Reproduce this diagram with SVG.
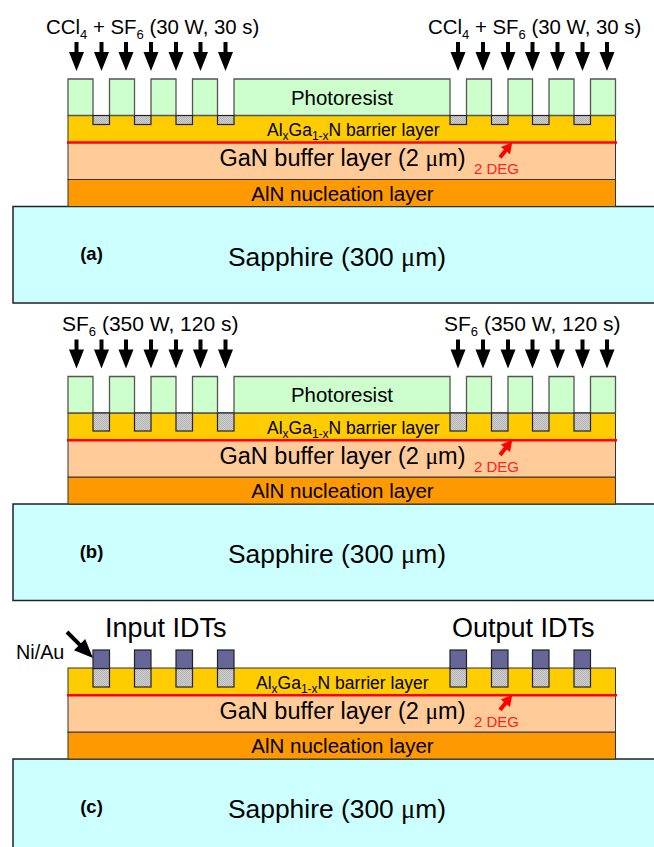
<svg xmlns="http://www.w3.org/2000/svg" width="654" height="847" viewBox="0 0 654 847">
<style>
text{font-family:"Liberation Sans",Arial,sans-serif;fill:#000}
.m{text-anchor:middle}
.s{font-size:20.4px}.s2{font-size:21px}.big{font-size:23.5px}.sap{font-size:26.4px}.res{font-size:20.4px}.bar{font-size:17.5px}.aln{font-size:20.5px}.lab{font-size:18.5px;font-weight:bold}
.red{fill:#ff2020;font-size:15px}
.u{font-family:"Liberation Serif",serif}
.pr{fill:#ccffcc;stroke:#555;stroke-width:1.3}
.ba{fill:#ffcc00;stroke:#333;stroke-width:1}
.bu{fill:#ffcc99;stroke:#333;stroke-width:1}
.al{fill:#ff9900;stroke:#333;stroke-width:1}
.sa{fill:#ccffff;stroke:#222;stroke-width:1.5}
.et{fill:url(#dots);stroke:#222;stroke-width:1.2}
.ni{fill:#666699;stroke:#222;stroke-width:1.2}
.rl{stroke:#ff0000;stroke-width:2.5;fill:none}
.ra{stroke:#ff0000;stroke-width:4;fill:none;marker-end:url(#rh)}
</style>
<defs>
<pattern id="dots" width="2" height="2" patternUnits="userSpaceOnUse"><rect width="2" height="2" fill="#cfcfcf"/><rect width="1" height="1" fill="#b4b4b4"/><rect x="1" y="1" width="1" height="1" fill="#b4b4b4"/></pattern>
<marker id="rh" markerUnits="userSpaceOnUse" markerWidth="16" markerHeight="16" refX="1" refY="6" orient="auto"><path d="M0 0L11 6L0 12Z" fill="#ff0000"/></marker>
<path id="ar" d="M-2 0H2V10H7.500L0 29L-7.500 10H-2Z" fill="#000"/>
</defs>

<g id="panel-a">
<g id="a-sapphire"><rect class="sa" x="13" y="206.500" width="650" height="96.500"/><text class="sap m" x="337" y="266">Sapphire (300 <tspan class="u">μ</tspan>m)</text><text class="lab m" x="91.500" y="260">(a)</text></g>
<g id="a-aln"><rect class="al" x="68" y="179.500" width="547.500" height="27"/><text class="aln m" x="342.500" y="201">AlN nucleation layer</text></g>
<g id="a-buffer"><rect class="bu" x="68" y="142.500" width="547.500" height="37"/><text class="big m" x="342.500" y="166">GaN buffer layer (2 <tspan class="u">μ</tspan>m)</text></g>
<g id="a-barrier"><rect class="ba" x="68" y="115.500" width="547.500" height="27"/><text class="bar" x="267" y="136">Al<tspan font-size="12" dy="4">x</tspan><tspan dy="-4">Ga</tspan><tspan font-size="12" dy="4">1-x</tspan><tspan dy="-4">N barrier layer</tspan></text></g>
<g id="a-resist"><path class="pr" d="M68 115.500V79H93V115.500ZM109.500 115.500V79H134.500V115.500ZM151 115.500V79H176V115.500ZM192.500 115.500V79H217.500V115.500ZM234 115.500V79H450V115.500ZM466.500 115.500V79H491.500V115.500ZM508 115.500V79H532.500V115.500ZM549 115.500V79H574V115.500ZM590.500 115.500V79H615.500V115.500Z"/><text class="res m" x="342" y="105">Photoresist</text></g>
<g id="a-etch"><rect class="et" x="93" y="115.500" width="16.500" height="9"/><rect class="et" x="134.500" y="115.500" width="16.500" height="9"/><rect class="et" x="176" y="115.500" width="16.500" height="9"/><rect class="et" x="217.500" y="115.500" width="16.500" height="9"/><rect class="et" x="450" y="115.500" width="16.500" height="9"/><rect class="et" x="491.500" y="115.500" width="16.500" height="9"/><rect class="et" x="532.500" y="115.500" width="16.500" height="9"/><rect class="et" x="574" y="115.500" width="16.500" height="9"/></g>
<g id="a-2deg"><text class="red" x="474" y="174">2 DEG</text></g>
<g id="a-gas-left"><text class="s" x="46" y="34">CCl<tspan font-size="13" dy="5">4</tspan><tspan dy="-5"> + SF</tspan><tspan font-size="13" dy="5">6</tspan><tspan dy="-5"> (30 W, 30 s)</tspan></text></g>
<g id="a-gas-right"><text class="s" x="428" y="34">CCl<tspan font-size="13" dy="5">4</tspan><tspan dy="-5"> + SF</tspan><tspan font-size="13" dy="5">6</tspan><tspan dy="-5"> (30 W, 30 s)</tspan></text></g>
</g>

<g id="panel-b">
<g id="b-sapphire"><rect class="sa" x="13" y="504" width="650" height="96.500"/><text class="sap m" x="337" y="563">Sapphire (300 <tspan class="u">μ</tspan>m)</text><text class="lab m" x="91.500" y="558">(b)</text></g>
<g id="b-aln"><rect class="al" x="68" y="477" width="547.500" height="27"/><text class="aln m" x="342.500" y="498">AlN nucleation layer</text></g>
<g id="b-buffer"><rect class="bu" x="68" y="440" width="547.500" height="37"/><text class="big m" x="342.500" y="463.500">GaN buffer layer (2 <tspan class="u">μ</tspan>m)</text></g>
<g id="b-barrier"><rect class="ba" x="68" y="413" width="547.500" height="27"/><text class="bar" x="267" y="433.500">Al<tspan font-size="12" dy="4">x</tspan><tspan dy="-4">Ga</tspan><tspan font-size="12" dy="4">1-x</tspan><tspan dy="-4">N barrier layer</tspan></text></g>
<g id="b-resist"><path class="pr" d="M68 413V376.500H93V413ZM109.500 413V376.500H134.500V413ZM151 413V376.500H176V413ZM192.500 413V376.500H217.500V413ZM234 413V376.500H450V413ZM466.500 413V376.500H491.500V413ZM508 413V376.500H532.500V413ZM549 413V376.500H574V413ZM590.500 413V376.500H615.500V413Z"/><text class="res m" x="342" y="402">Photoresist</text></g>
<g id="b-etch"><rect class="et" x="93" y="413" width="16.500" height="18"/><rect class="et" x="134.500" y="413" width="16.500" height="18"/><rect class="et" x="176" y="413" width="16.500" height="18"/><rect class="et" x="217.500" y="413" width="16.500" height="18"/><rect class="et" x="450" y="413" width="16.500" height="18"/><rect class="et" x="491.500" y="413" width="16.500" height="18"/><rect class="et" x="532.500" y="413" width="16.500" height="18"/><rect class="et" x="574" y="413" width="16.500" height="18"/></g>
<g id="b-2deg"><text class="red" x="474" y="471.500">2 DEG</text></g>
<g id="b-gas-left"><text class="s2" x="62" y="331">SF<tspan font-size="13" dy="5">6</tspan><tspan dy="-5"> (350 W, 120 s)</tspan></text></g>
<g id="b-gas-right"><text class="s2" x="444" y="331">SF<tspan font-size="13" dy="5">6</tspan><tspan dy="-5"> (350 W, 120 s)</tspan></text></g>
</g>

<g id="panel-c">
<g id="c-sapphire"><rect class="sa" x="13" y="759" width="650" height="100"/><text class="sap m" x="337" y="818">Sapphire (300 <tspan class="u">μ</tspan>m)</text><text class="lab m" x="91.500" y="813">(c)</text></g>
<g id="c-aln"><rect class="al" x="68" y="732" width="547.500" height="27"/><text class="aln m" x="342.500" y="753">AlN nucleation layer</text></g>
<g id="c-buffer"><rect class="bu" x="68" y="695" width="547.500" height="37"/><text class="big m" x="342.500" y="718.500">GaN buffer layer (2 <tspan class="u">μ</tspan>m)</text></g>
<g id="c-barrier"><rect class="ba" x="68" y="668" width="547.500" height="27"/><text class="bar" x="256" y="688.500">Al<tspan font-size="12" dy="4">x</tspan><tspan dy="-4">Ga</tspan><tspan font-size="12" dy="4">1-x</tspan><tspan dy="-4">N barrier layer</tspan></text></g>
<g id="c-idt-input"><rect class="et" x="93" y="668.500" width="16.500" height="18.500"/><rect class="ni" x="93" y="650" width="16.500" height="18.500"/><rect class="et" x="134.500" y="668.500" width="16.500" height="18.500"/><rect class="ni" x="134.500" y="650" width="16.500" height="18.500"/><rect class="et" x="176" y="668.500" width="16.500" height="18.500"/><rect class="ni" x="176" y="650" width="16.500" height="18.500"/><rect class="et" x="217.500" y="668.500" width="16.500" height="18.500"/><rect class="ni" x="217.500" y="650" width="16.500" height="18.500"/><text x="105" y="637" font-size="27">Input IDTs</text></g>
<g id="c-idt-output"><rect class="et" x="450" y="668.500" width="16.500" height="18.500"/><rect class="ni" x="450" y="650" width="16.500" height="18.500"/><rect class="et" x="491.500" y="668.500" width="16.500" height="18.500"/><rect class="ni" x="491.500" y="650" width="16.500" height="18.500"/><rect class="et" x="532.500" y="668.500" width="16.500" height="18.500"/><rect class="ni" x="532.500" y="650" width="16.500" height="18.500"/><rect class="et" x="574" y="668.500" width="16.500" height="18.500"/><rect class="ni" x="574" y="650" width="16.500" height="18.500"/><text x="452" y="637" font-size="27">Output IDTs</text></g>
<g id="c-niau"><text x="16" y="659" font-size="19.800">Ni/Au</text></g>
<g id="c-2deg"><text class="red" x="474" y="726.500">2 DEG</text></g>
</g>

<g id="connectors">
<line class="rl" x1="67" y1="142.500" x2="617" y2="142.500"/>
<line class="rl" x1="67" y1="440.300" x2="617" y2="440.300"/>
<line class="rl" x1="67" y1="695.300" x2="617" y2="695.300"/>
<path class="ra" d="M500 157.500L506 150"/>
<path class="ra" d="M500 455L506 447.500"/>
<path class="ra" d="M500 710L506 702.500"/>
<g id="arrows-a"><use href="#ar" x="76.500" y="42"/><use href="#ar" x="101.500" y="42"/><use href="#ar" x="126" y="42"/><use href="#ar" x="151" y="42"/><use href="#ar" x="176" y="42"/><use href="#ar" x="200.500" y="42"/><use href="#ar" x="225.500" y="42"/><use href="#ar" x="458" y="42"/><use href="#ar" x="483" y="42"/><use href="#ar" x="508" y="42"/><use href="#ar" x="532.500" y="42"/><use href="#ar" x="557.500" y="42"/><use href="#ar" x="582.500" y="42"/><use href="#ar" x="607" y="42"/></g>
<g id="arrows-b"><use href="#ar" x="76.500" y="339.500"/><use href="#ar" x="101.500" y="339.500"/><use href="#ar" x="126" y="339.500"/><use href="#ar" x="151" y="339.500"/><use href="#ar" x="176" y="339.500"/><use href="#ar" x="200.500" y="339.500"/><use href="#ar" x="225.500" y="339.500"/><use href="#ar" x="458" y="339.500"/><use href="#ar" x="483" y="339.500"/><use href="#ar" x="508" y="339.500"/><use href="#ar" x="532.500" y="339.500"/><use href="#ar" x="557.500" y="339.500"/><use href="#ar" x="582.500" y="339.500"/><use href="#ar" x="607" y="339.500"/></g>
<path d="M68.400 630.600L81 643.200L85.200 639L93 658L74 650.200L78.200 646L65.600 633.400Z" fill="#000"/>
</g>
</svg>
